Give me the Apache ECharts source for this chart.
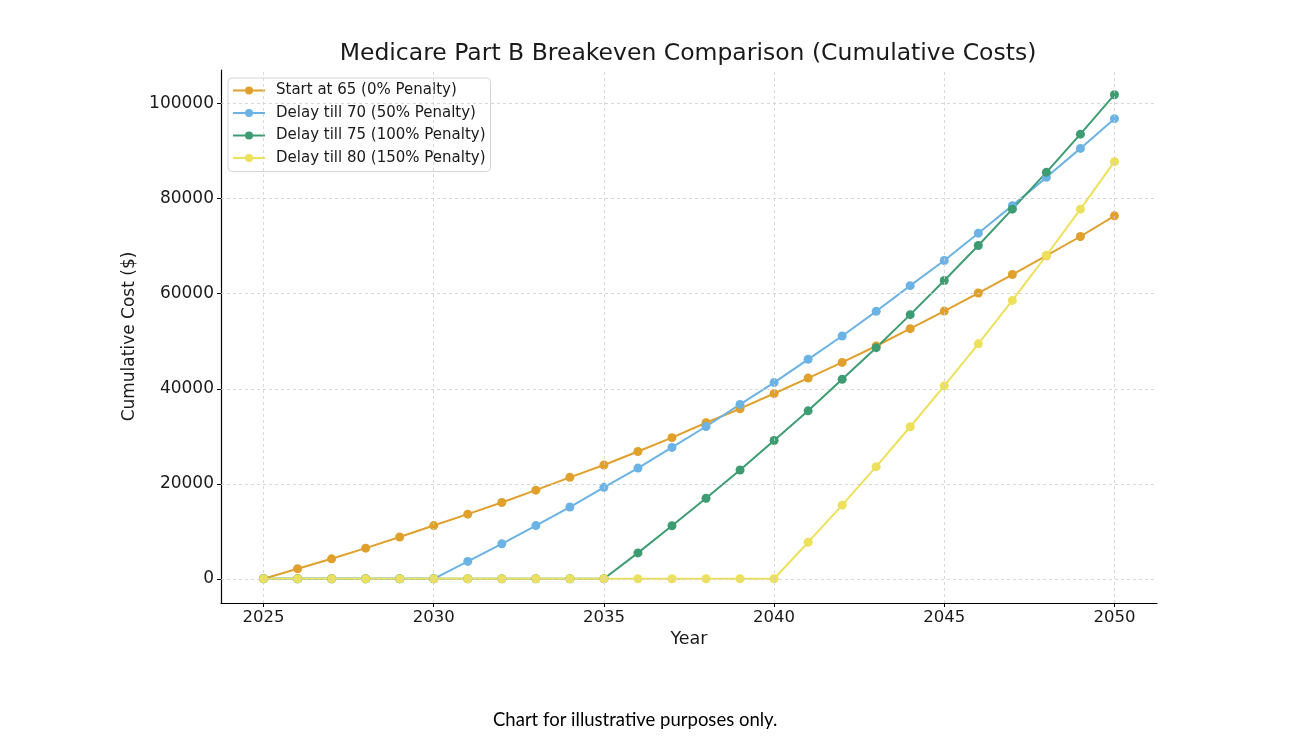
<!DOCTYPE html>
<html>
<head>
<meta charset="utf-8">
<script src="https://cdn.jsdelivr.net/npm/echarts@6/dist/echarts.min.js"></script>
<style>
html,body{margin:0;padding:0;background:#fff;}
#chart{width:1300px;height:739px;}
</style>
</head>
<body>
<div id="chart"></div>
<script>
const years = [2025,2026,2027,2028,2029,2030,2031,2032,2033,2034,2035,2036,2037,2038,2039,2040,2041,2042,2043,2044,2045,2046,2047,2048,2049,2050];
const start65 = [0,2100,4200,6450,8800,11200,13600,16050,18650,21350,23950,26800,29700,32850,35800,39000,42250,45550,49000,52650,56350,60150,64050,68000,72050,76400];
const delay70 = [0,0,0,0,0,0,3650,7350,11200,15100,19250,23300,27650,32050,36700,41300,46200,51100,56300,61700,67000,72750,78550,84500,90600,96850];
const delay75 = [0,0,0,0,0,0,0,0,0,0,0,5450,11150,16950,22900,29100,35350,42000,48650,55600,62800,70150,77800,85550,93600,101900];
const delay80 = [0,0,0,0,0,0,0,0,0,0,0,0,0,0,0,0,7700,15500,23600,32000,40600,49450,58600,68050,77800,87800];
const seriesNames = ['Start at 65 (0% Penalty)','Delay till 70 (50% Penalty)','Delay till 75 (100% Penalty)','Delay till 80 (150% Penalty)'];
const xTicks = [2025,2030,2035,2040,2045,2050];
const yTicks = [0,20000,40000,60000,80000,100000];
const colors = ['#E0A02C','#6BB3E4','#3E9C72','#EDE05B'];

const chart = echarts.init(document.getElementById('chart'), null, {renderer:'canvas'});
const font = 'DejaVu Sans';
const txt = '#1a1a1a';
const allSeries = [start65, delay70, delay75, delay80];

const gridStyle = {color:'#cfcfcf', width:0.8, type:[3,3]};
const gridSeries = {
  type:'line', data:[], silent:true, z:1,
  markLine:{
    silent:true, symbol:['none','none'], label:{show:false},
    lineStyle:gridStyle, animation:false,
    data: xTicks.map(v=>({xAxis:v})).concat(yTicks.map(v=>({yAxis:v})))
  }
};

const option = {
  animation:false,
  color: colors,
  title:{
    text:'Medicare Part B Breakeven Comparison (Cumulative Costs)',
    left:683, top:37, textAlign:'center',
    textStyle:{fontFamily:font, fontSize:23.5, fontWeight:'normal', color:txt}
  },
  legend:{
    orient:'vertical', left:228, top:78,
    padding:[5,5,6,4],
    backgroundColor:'#ffffff',
    borderColor:'#d6d6d6', borderWidth:1, borderRadius:4,
    itemWidth:32, itemHeight:10, itemGap:7.5,
    textStyle:{fontFamily:font, fontSize:15, color:txt, padding:[0,0,0,6]},
    data: seriesNames
  },
  grid:{left:221, right:143, top:70, bottom:136, containLabel:false},
  xAxis:{
    type:'value', min:2023.75, max:2051.25,
    name:'Year', nameLocation:'middle', nameGap:27,
    nameTextStyle:{fontFamily:font, fontSize:17.5, color:txt},
    axisLine:{show:true, onZero:false, lineStyle:{color:'#000', width:1.2}},
    axisTick:{show:true, length:4, customValues:xTicks, lineStyle:{color:'#000'}},
    axisLabel:{customValues:xTicks, fontFamily:font, fontSize:16.5, color:txt, margin:6, formatter:v=>String(v)},
    splitLine:{show:false}
  },
  yAxis:{
    type:'value', min:-5100, max:107100,
    name:'Cumulative Cost ($)', nameLocation:'middle', nameGap:81, nameRotate:90,
    nameTextStyle:{fontFamily:font, fontSize:17, color:txt},
    axisLine:{show:true, onZero:false, lineStyle:{color:'#000', width:1.2}},
    axisTick:{show:true, length:4, customValues:yTicks, lineStyle:{color:'#000'}},
    axisLabel:{customValues:yTicks, fontFamily:font, fontSize:17, color:txt, margin:7, formatter:v=>String(v)},
    splitLine:{show:false}
  },
  graphic:[{
    type:'text', left:493, top:711,
    style:{text:'Chart for illustrative purposes only.', font:'18.5px Lato', fill:'#000'}
  }],
  series:[gridSeries].concat(seriesNames.map((n,i)=>({
    name:n, type:'line', z:3,
    data: years.map((y,j)=>[y, allSeries[i][j]]),
    symbol:'circle', symbolSize:9,
    lineStyle:{width:2, color:colors[i]},
    itemStyle:{color:colors[i]}
  })))
};
chart.setOption(option);
</script>
</body>
</html>
